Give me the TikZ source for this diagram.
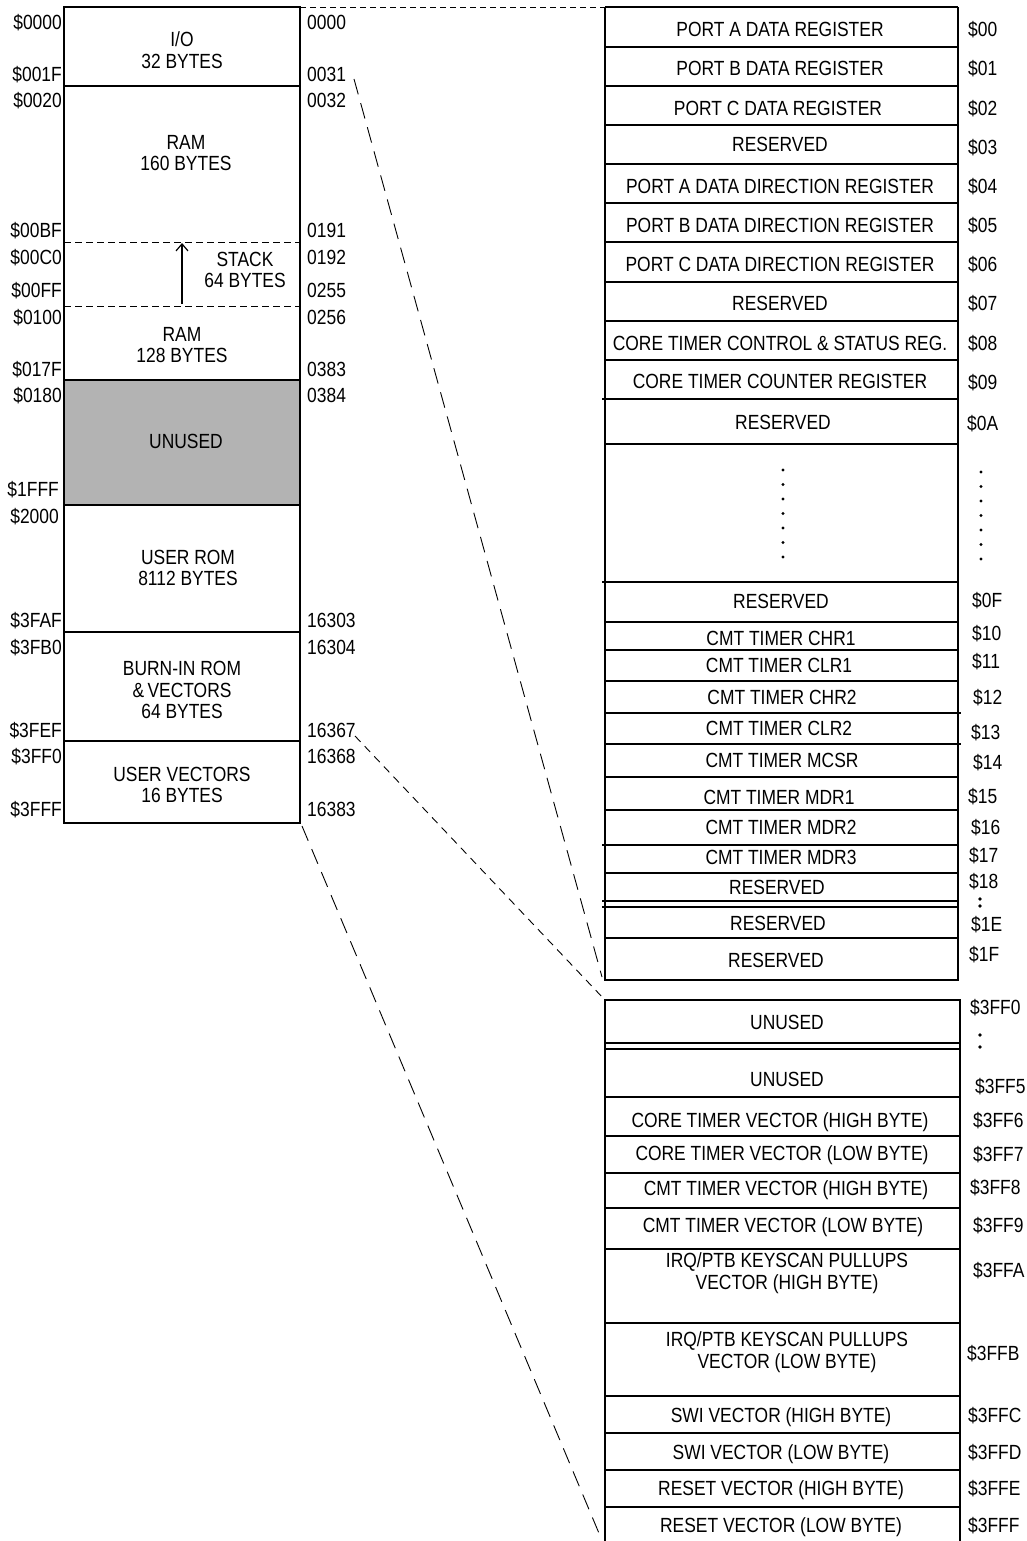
\documentclass[tikz,border=0pt]{standalone}
\usepackage{fontspec}
\setmainfont{Liberation Sans}[FakeStretch=0.85]
\usetikzlibrary{arrows.meta}
\definecolor{unusedgray}{HTML}{B3B3B3}
\begin{document}
\begin{tikzpicture}[x=1pt,y=-1pt,
  font=\fontsize{20.5}{21.5}\selectfont,
  box/.style={line width=1.4pt},
  t/.style={inner sep=0pt, text height=14.7pt, text depth=0pt},
  m/.style={inner sep=0pt, align=center},
  ladr/.style={t, anchor=east},
  radr/.style={t, anchor=west},
  conn/.style={line width=0.9pt, dash pattern=on 16pt off 9pt},
  connshort/.style={line width=0.9pt, dash pattern=on 6pt off 4pt}]
\useasboundingbox (0,0) rectangle (1027,1541);

% ---------- left memory map ----------
\fill[unusedgray] (64,380) rectangle (300,505);
\draw[box] (64,7) rectangle (300,823);
\foreach \yy in {86,632,741} \draw[box] (64,\yy) -- (300,\yy);
\draw[line width=1.8pt] (64,380) rectangle (300,505);
\draw[line width=1pt, dash pattern=on 7pt off 4pt] (64,242) -- (300,242);
\draw[line width=1pt, dash pattern=on 7pt off 4pt] (64,306) -- (300,306);
\coordinate (stackbot) at (182,304);
\coordinate (stacktop) at (182,243);
\draw[line width=1.2pt, -{Straight Barb[length=7pt,width=12pt,line width=1.2pt]}] (stackbot) -- (stacktop);

\node[m] (io)     at (182,50)  {I/O\\32 BYTES};
\node[m] (ram1)   at (186,153) {RAM\\160 BYTES};
\node[m] (stack)  at (245,270) {STACK\\64 BYTES};
\node[m] (ram2)   at (182,345) {RAM\\128 BYTES};
\node[t] (unused) at (186,441) {UNUSED};
\node[m] (urom)   at (188,568) {USER ROM\\8112 BYTES};
\node[m] (burn)   at (182,690) {BURN-IN ROM\\\&\,VECTORS\\64 BYTES};
\node[m] (uvec)   at (182,785) {USER VECTORS\\16 BYTES};

\node[ladr] (la0)  at (62,22)  {\$0000};
\node[ladr] (la1)  at (62,74)  {\$001F};
\node[ladr] (la2)  at (62,100) {\$0020};
\node[ladr] (la3)  at (62,230) {\$00BF};
\node[ladr] (la4)  at (62,257) {\$00C0};
\node[ladr] (la5)  at (62,290) {\$00FF};
\node[ladr] (la6)  at (62,317) {\$0100};
\node[ladr] (la7)  at (62,369) {\$017F};
\node[ladr] (la8)  at (62,395) {\$0180};
\node[ladr] (la9)  at (59,489) {\$1FFF};
\node[ladr] (la10) at (59,516) {\$2000};
\node[ladr] (la11) at (62,620) {\$3FAF};
\node[ladr] (la12) at (62,647) {\$3FB0};
\node[ladr] (la13) at (62,730) {\$3FEF};
\node[ladr] (la14) at (62,756) {\$3FF0};
\node[ladr] (la15) at (62,809) {\$3FFF};

\node[radr] (ra0)  at (307,22)  {0000};
\node[radr] (ra1)  at (307,74)  {0031};
\node[radr] (ra2)  at (307,100) {0032};
\node[radr] (ra3)  at (307,230) {0191};
\node[radr] (ra4)  at (307,257) {0192};
\node[radr] (ra5)  at (307,290) {0255};
\node[radr] (ra6)  at (307,317) {0256};
\node[radr] (ra7)  at (307,369) {0383};
\node[radr] (ra8)  at (307,395) {0384};
\node[radr] (ra11) at (307,620) {16303};
\node[radr] (ra12) at (307,647) {16304};
\node[radr] (ra13) at (307,730) {16367};
\node[radr] (ra14) at (307,756) {16368};
\node[radr] (ra15) at (307,809) {16383};

% ---------- right block 1: I/O registers ----------
\draw[box] (605,7) -- (958,7);
\draw[box] (605,7) -- (605,980) -- (958,980) -- (958,7);
\foreach \yy in {47,86,125,164,203,242,282,321,360,444,622,650,681,777,810,873,938}
  \draw[box] (605,\yy) -- (958,\yy);
\foreach \yy in {399,582,845,907} \draw[box] (602,\yy) -- (957,\yy);
\foreach \yy in {713,744} \draw[box] (605,\yy) -- (961,\yy);
\draw[box] (602,901) -- (958,901);

\node[t] (r00) at (780,29)  {PORT A DATA REGISTER};
\node[t] (r01) at (780,68)  {PORT B DATA REGISTER};
\node[t] (r02) at (778,108) {PORT C DATA REGISTER};
\node[t] (r03) at (780,144) {RESERVED};
\node[t] (r04) at (780,186) {PORT A DATA DIRECTION REGISTER};
\node[t] (r05) at (780,225) {PORT B DATA DIRECTION REGISTER};
\node[t] (r06) at (780,264) {PORT C DATA DIRECTION REGISTER};
\node[t] (r07) at (780,303) {RESERVED};
\node[t] (r08) at (780,343) {CORE TIMER CONTROL \& STATUS REG.};
\node[t] (r09) at (780,381) {CORE TIMER COUNTER REGISTER};
\node[t] (r0a) at (783,422) {RESERVED};
\foreach \k in {0,...,6} {
  \fill (783,470+\k*14.5) circle (1.6pt);
  \fill (981,472+\k*14.5) circle (1.6pt);
}
\node[t] (r0f) at (781,601) {RESERVED};
\node[t] (r10) at (781,638) {CMT TIMER CHR1};
\node[t] (r11) at (779,665) {CMT TIMER CLR1};
\node[t] (r12) at (782,697) {CMT TIMER CHR2};
\node[t] (r13) at (779,728) {CMT TIMER CLR2};
\node[t] (r14) at (782,760) {CMT TIMER MCSR};
\node[t] (r15) at (779,797) {CMT TIMER MDR1};
\node[t] (r16) at (781,827) {CMT TIMER MDR2};
\node[t] (r17) at (781,857) {CMT TIMER MDR3};
\node[t] (r18) at (777,887) {RESERVED};
\node[t] (r1e) at (778,923) {RESERVED};
\node[t] (r1f) at (776,960) {RESERVED};

\node[radr] (a00) at (968,29)  {\$00};
\node[radr] (a01) at (968,68)  {\$01};
\node[radr] (a02) at (968,108) {\$02};
\node[radr] (a03) at (968,147) {\$03};
\node[radr] (a04) at (968,186) {\$04};
\node[radr] (a05) at (968,225) {\$05};
\node[radr] (a06) at (968,264) {\$06};
\node[radr] (a07) at (968,303) {\$07};
\node[radr] (a08) at (968,343) {\$08};
\node[radr] (a09) at (968,382) {\$09};
\node[radr] (a0a) at (967,423) {\$0A};
\node[radr] (a0f) at (972,600) {\$0F};
\node[radr] (a10) at (972,633) {\$10};
\node[radr] (a11) at (972,661) {\$11};
\node[radr] (a12) at (973,697) {\$12};
\node[radr] (a13) at (971,732) {\$13};
\node[radr] (a14) at (973,762) {\$14};
\node[radr] (a15) at (968,796) {\$15};
\node[radr] (a16) at (971,827) {\$16};
\node[radr] (a17) at (969,855) {\$17};
\node[radr] (a18) at (969,881) {\$18};
\fill (980,899) circle (1.9pt) (980,906) circle (1.9pt);
\node[radr] (a1e) at (971,924) {\$1E};
\node[radr] (a1f) at (969,954) {\$1F};

% ---------- right block 2: vectors ----------
\draw[box] (605,1541) -- (605,1000) -- (960,1000) -- (960,1541);
\foreach \yy in {1043,1049,1097,1136,1173,1208,1249,1323,1396,1433,1470,1507}
  \draw[box] (605,\yy) -- (960,\yy);

\node[t] (v0) at (787,1022) {UNUSED};
\node[t] (v5) at (787,1079) {UNUSED};
\node[t] (v6) at (780,1120) {CORE TIMER VECTOR (HIGH BYTE)};
\node[t] (v7) at (782,1153) {CORE TIMER VECTOR (LOW BYTE)};
\node[t] (v8) at (786,1188) {CMT TIMER VECTOR (HIGH BYTE)};
\node[t] (v9) at (783,1225) {CMT TIMER VECTOR (LOW BYTE)};
\node[m] (va) at (787,1273) {IRQ/PTB KEYSCAN PULLUPS\\VECTOR (HIGH BYTE)};
\node[m] (vb) at (787,1352) {IRQ/PTB KEYSCAN PULLUPS\\VECTOR (LOW BYTE)};
\node[t] (vc) at (781,1415) {SWI VECTOR (HIGH BYTE)};
\node[t] (vd) at (781,1452) {SWI VECTOR (LOW BYTE)};
\node[t] (ve) at (781,1488) {RESET VECTOR (HIGH BYTE)};
\node[t] (vf) at (781,1525) {RESET VECTOR (LOW BYTE)};

\node[radr] (b0) at (970,1007) {\$3FF0};
\fill (980,1035) circle (1.9pt) (980,1047) circle (1.9pt);
\node[radr] (b5) at (975,1086) {\$3FF5};
\node[radr] (b6) at (973,1120) {\$3FF6};
\node[radr] (b7) at (973,1154) {\$3FF7};
\node[radr] (b8) at (970,1187) {\$3FF8};
\node[radr] (b9) at (973,1225) {\$3FF9};
\node[radr] (ba) at (973,1270) {\$3FFA};
\node[radr] (bb) at (967,1353) {\$3FFB};
\node[radr] (bc) at (968,1415) {\$3FFC};
\node[radr] (bd) at (968,1452) {\$3FFD};
\node[radr] (be) at (968,1488) {\$3FFE};
\node[radr] (bf) at (968,1525) {\$3FFF};

% ---------- dashed connectors ----------
\coordinate (ltop) at (300,7);
\coordinate (rtop) at (605,7);
\coordinate (c31)  at (354,79);
\coordinate (r1bot) at (602,977);
\coordinate (c367) at (355,736);
\coordinate (r2top) at (604,999);
\coordinate (lbot) at (302,826);
\coordinate (r2bot) at (601,1538);
\draw[connshort] (ltop) -- (rtop);
\draw[conn] (c31) -- (r1bot);
\draw[line width=0.9pt, dash pattern=on 8pt off 6pt] (c367) -- (r2top);
\draw[conn] (lbot) -- (r2bot);
\end{tikzpicture}
\end{document}
